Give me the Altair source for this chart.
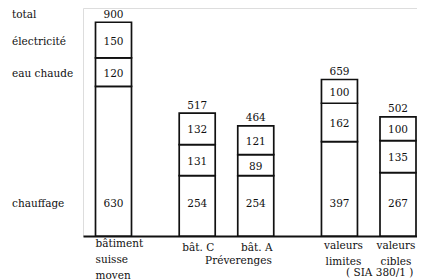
import altair as alt
import pandas as pd

# ---- data ----
categories = ["bâtiment suisse moyen", "bât. C", "bât. A", "valeurs limites", "valeurs cibles"]
category_lines = [["bâtiment", "suisse", "moyen"], ["bât. C"], ["bât. A"],
                  ["valeurs", "limites"], ["valeurs", "cibles"]]
groups = [0, 1, 1, 2, 2]
group_names = ["", "Préverenges", "( SIA 380/1 )"]
segments = ["chauffage", "eau chaude", "électricité"]
chauffage = [630, 254, 254, 397, 267]
eau_chaude = [120, 131, 89, 162, 135]
electricite = [150, 132, 121, 100, 100]
totals = [900, 517, 464, 659, 502]
row_labels = ["électricité", "eau chaude", "chauffage"]
total_label = "total"

# ---- layout constants ----
GROUP_GAP = 0.43          # extra space between groups (in bar steps)
CHAUFFAGE_LABEL_Y = 135   # the chauffage row is written on one common line
FONT = "DejaVu Serif"
FS = 10.5
W, H = 334, 228
LH = 16

pos = [i + GROUP_GAP * g for i, g in enumerate(groups)]

rows = []
for i, cat in enumerate(categories):
    base = 0
    for seg, v in zip(segments, [chauffage[i], eau_chaude[i], electricite[i]]):
        ly = CHAUFFAGE_LABEL_Y if seg == "chauffage" else base + v / 2
        rows.append({"cat": cat, "pos": pos[i], "seg": seg, "lo": base,
                     "hi": base + v, "value": v, "ly": ly,
                     "chauf": seg == "chauffage"})
        base += v
seg_df = pd.DataFrame(rows)

tot_df = pd.DataFrame({"cat": categories, "pos": pos, "total": totals})

lab_df = pd.DataFrame({"cat": categories, "pos": pos,
                       "lines": category_lines, "g": groups,
                       "n": [len(l) for l in category_lines]})

first = seg_df[seg_df["cat"] == categories[0]].set_index("seg")["ly"]
row_df = pd.DataFrame({"label": row_labels,
                       "y": [first["électricité"], first["eau chaude"], first["chauffage"]],
                       "chauf": [False, False, True]})
total_df = pd.DataFrame({"label": [total_label], "y": [totals[0]]})

grp_rows = []
for g, name in enumerate(group_names):
    if name:
        members = [p for p, gg in zip(pos, groups) if gg == g]
        grp_rows.append({"name": name, "pos": sum(members) / len(members), "g": g})
grp_df = pd.DataFrame(grp_rows)

PX = 58.54
x0 = -30.5 / PX
xs = alt.Scale(domain=[x0, x0 + W / PX], nice=False, zero=False, padding=0)
ys = alt.Scale(domain=[0, H / 0.2375], nice=False, padding=0)

bars = alt.Chart(seg_df).mark_bar(
    fill="white", stroke="#111", strokeWidth=1.7, size=36
).encode(
    x=alt.X("pos:Q", scale=xs,
            axis=alt.Axis(labels=False, ticks=False, grid=False, title=None,
                          domainColor="#111", domainWidth=2)),
    y=alt.Y("lo:Q", scale=ys, axis=None),
    y2="hi:Q",
)

txt = dict(font=FONT, fontSize=FS, color="#111")

seg_text_up = alt.Chart(seg_df[~seg_df["chauf"]]).mark_text(baseline="middle", dy=1.5, **txt).encode(
    x=alt.X("pos:Q", scale=xs), y=alt.Y("ly:Q", scale=ys), text="value:Q")
seg_text_ch = alt.Chart(seg_df[seg_df["chauf"]]).mark_text(baseline="middle", **txt).encode(
    x=alt.X("pos:Q", scale=xs), y=alt.Y("ly:Q", scale=ys), text="value:Q")

tot_text = alt.Chart(tot_df).mark_text(baseline="middle", dy=-7.5, **txt).encode(
    x=alt.X("pos:Q", scale=xs), y=alt.Y("total:Q", scale=ys), text="total:Q")

row_text_up = alt.Chart(row_df[~row_df["chauf"]]).mark_text(baseline="middle", align="left", dy=1.5, **txt).encode(
    x=alt.value(-71), y=alt.Y("y:Q", scale=ys), text="label:N")
row_text_ch = alt.Chart(row_df[row_df["chauf"]]).mark_text(baseline="middle", align="left", **txt).encode(
    x=alt.value(-71), y=alt.Y("y:Q", scale=ys), text="label:N")

total_text = alt.Chart(total_df).mark_text(baseline="middle", align="left", dy=-7.5, **txt).encode(
    x=alt.value(-71), y=alt.Y("y:Q", scale=ys), text="label:N")

cat_first = alt.Chart(lab_df[lab_df["g"] == 0]).mark_text(
    baseline="alphabetic", align="left", lineHeight=LH, dx=-18, **txt
).encode(x=alt.X("pos:Q", scale=xs), y=alt.value(H + 10.5), text="lines")

cat_lim = alt.Chart(lab_df[lab_df["cat"] == categories[3]]).mark_text(
    baseline="alphabetic", align="center", lineHeight=LH, dx=4, **txt
).encode(x=alt.X("pos:Q", scale=xs), y=alt.value(H + 12.5), text="lines")

cat_cib = alt.Chart(lab_df[lab_df["cat"] == categories[4]]).mark_text(
    baseline="alphabetic", align="center", lineHeight=LH, dx=-2, **txt
).encode(x=alt.X("pos:Q", scale=xs), y=alt.value(H + 12.5), text="lines")

cat_single = alt.Chart(lab_df[(lab_df["g"] > 0) & (lab_df["n"] == 1)]).mark_text(
    baseline="alphabetic", align="center", dx=1, **txt
).encode(x=alt.X("pos:Q", scale=xs), y=alt.value(H + 15), text="lines")

grp1 = alt.Chart(grp_df[grp_df["g"] == 1]).mark_text(
    baseline="alphabetic", align="center", dx=12, **txt
).encode(x=alt.X("pos:Q", scale=xs), y=alt.value(H + 27.5), text="name:N")

grp2 = alt.Chart(grp_df[grp_df["g"] == 2]).mark_text(
    baseline="alphabetic", align="center", dx=11, **txt
).encode(x=alt.X("pos:Q", scale=xs), y=alt.value(H + 39.5), text="name:N")

chart = alt.layer(bars, seg_text_up, seg_text_ch, tot_text, row_text_up, row_text_ch,
                  total_text, cat_first, cat_lim, cat_cib, cat_single, grp1, grp2).properties(
    width=W, height=H,
    autosize=alt.AutoSizeParams(type="none"),
    padding={"left": 75, "top": 0, "right": 0, "bottom": 43},
).configure_view(stroke=None).configure(background="white")

chart.save("out.html", embed_options={"renderer": "svg", "actions": False})
